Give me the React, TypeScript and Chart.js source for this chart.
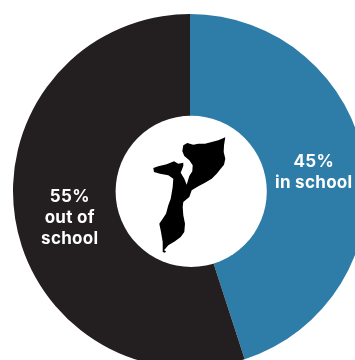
import { useEffect, useRef } from "react";
import { Chart, registerables } from "chart.js";

Chart.register(...registerables);

const categories = ["in school", "out of school"];
const values = [45, 55];
const colours = ["#2e7ca8", "#231f20"];
const labelLines = [
  ["45%", "in school"],
  ["55%", "out of", "school"],
];
const labelNudges = [
  [0.5, 0.5],
  [3, 7.5],
];

// Outline of Mozambique, relative to the middle of the doughnut.
const countryOutline = [
  [225.3, 137.3], [224, 145.3], [223.7, 152], [225.3, 158.7], [224, 164.7], [220.7, 168.7],
  [216.7, 173.7], [211.7, 178.7], [205, 182.7], [198.3, 186.3], [191.7, 190.3], [189.3, 197],
  [183.3, 202], [182.7, 207], [183.3, 215.3], [185, 223.7], [184.3, 232], [180.7, 237],
  [175, 241.3], [168.3, 245.3], [164, 250.3], [166, 251.3], [165, 252.7], [162.7, 252],
  [162.7, 242], [161, 232], [159.3, 223.7], [161.7, 220.3], [166, 213.7], [168.3, 205.3],
  [170.7, 198.7], [172.7, 187], [173.3, 178.7], [168.3, 175.3], [160, 173.7], [154, 172],
  [153.3, 168], [158.3, 166.3], [166.7, 164.3], [174, 161.3], [178.3, 163.7], [183.3, 162.7],
  [183.3, 166], [180.7, 172.7], [184.3, 178.7], [186.7, 184.7], [189.3, 176], [192.3, 171.3],
  [192.7, 165.3], [189.3, 160.3], [184.3, 156], [182.3, 151.3], [183.3, 145.3], [187.3, 143],
  [193.3, 144.7], [198.3, 143.7], [205, 143.7], [211.7, 142], [218.3, 140.3],
].map(([x, y]) => [x - 190, y - 191]);

const sliceText = {
  id: "sliceText",
  afterDatasetsDraw(chart: Chart) {
    const { ctx } = chart;
    const arcs = chart.getDatasetMeta(0).data;
    const first = arcs[0] as any;
    ctx.save();

    // White disc in the hole, sitting very slightly off the doughnut's axis
    ctx.fillStyle = "#ffffff";
    ctx.beginPath();
    ctx.arc(first.x + 1.2, first.y + 0.4, 75.6, 0, Math.PI * 2);
    ctx.fill();

    // Country silhouette
    ctx.fillStyle = "#000000";
    ctx.beginPath();
    countryOutline.forEach(([x, y], i) => {
      if (i === 0) ctx.moveTo(first.x + x, first.y + y);
      else ctx.lineTo(first.x + x, first.y + y);
    });
    ctx.closePath();
    ctx.fill();

    // Slice captions
    ctx.fillStyle = "#ffffff";
    ctx.font = "700 17px Inter";
    ctx.textAlign = "center";
    ctx.textBaseline = "middle";
    (ctx as any).letterSpacing = "0.3px";
    arcs.forEach((arc: any, i) => {
      const c = arc.getCenterPoint();
      const lines = labelLines[i];
      const lineGap = 21;
      lines.forEach((line, j) => {
        const y = c.y + labelNudges[i][1] + (j - (lines.length - 1) / 2) * lineGap;
        ctx.fillText(line, c.x + labelNudges[i][0], y);
      });
    });
    ctx.restore();
  },
};

export default function App() {
  const canvasRef = useRef<HTMLCanvasElement>(null);

  useEffect(() => {
    document.body.style.margin = "0";
    const chart = new Chart(canvasRef.current!, {
      type: "doughnut",
      data: {
        labels: categories,
        datasets: [{ data: values, backgroundColor: colours, borderWidth: 0 }],
      },
      options: {
        animation: false,
        responsive: false,
        cutout: "41%",
        plugins: { legend: { display: false }, tooltip: { enabled: false } },
      },
      plugins: [sliceText],
    });
    return () => chart.destroy();
  }, []);

  return (
    <div style={{ position: "relative", width: 355, height: 360, overflow: "hidden", background: "#fff" }}>
      <canvas
        ref={canvasRef}
        width={354}
        height={354}
        style={{ position: "absolute", left: 13, top: 14, width: 354, height: 354 }}
      />
    </div>
  );
}
